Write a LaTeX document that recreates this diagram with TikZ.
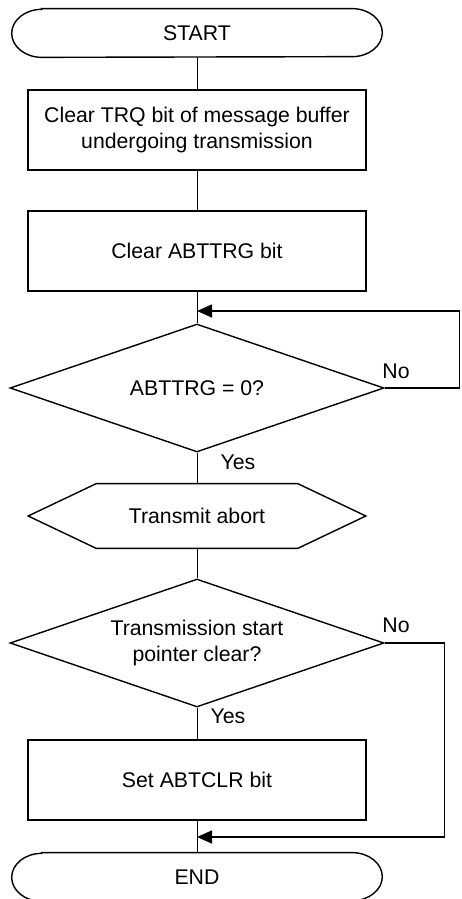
\documentclass[tikz,border=0pt]{standalone}
\usepackage{fontspec}
\setmainfont{Liberation Sans}
\usetikzlibrary{shapes.geometric,arrows.meta}

\begin{document}
\begin{tikzpicture}[x=0.02cm,y=-0.02cm,
    font=\fontsize{12.1}{14.8}\selectfont,
    every node/.style={align=center,inner sep=0pt},
    outline/.style={line width=0.8pt},
    term/.style={minimum width=7.4cm,minimum height=0.96cm},
    proc/.style={draw,outline,minimum width=6.76cm,minimum height=1.6cm},
    decide/.style={draw,outline,diamond,aspect=2.92,minimum width=7.48cm,minimum height=2.56cm},
    prep/.style={minimum width=6.74cm,minimum height=1.28cm},
    link/.style={line width=0.5pt},
    back/.style={line width=0.8pt,-{Triangle[length=0.3cm,width=0.26cm]}}]
      \useasboundingbox (0,0) rectangle (461,899);

      % Steps
      \node[term] (start) at (197,33) {START};
      \node[proc] (clrtrq) at (197,130) {Clear TRQ bit of message buffer\\undergoing transmission};
      \node[proc] (clrabt) at (197,251) {Clear ABTTRG bit};
      \node[decide] (chkabt) at (197,388) {ABTTRG = 0?};
      \node[prep] (abort) at (197,516) {Transmit abort};
      \node[decide] (chkptr) at (197,643) {Transmission start\\pointer clear?};
      \node[proc] (setclr) at (197,780) {Set ABTCLR bit};
      \node[term] (stop) at (197,877) {END};

      % Terminal outlines
      \draw[outline] ([xshift=0.6cm]start.north west) -- ([xshift=-0.6cm]start.north east)
        arc (90:-90:0.6cm and 0.48cm) -- ([xshift=0.6cm]start.south west)
        arc (270:90:0.6cm and 0.48cm) -- cycle;
      \draw[outline] ([xshift=0.6cm]stop.north west) -- ([xshift=-0.6cm]stop.north east)
        arc (90:-90:0.6cm and 0.48cm) -- ([xshift=0.6cm]stop.south west)
        arc (270:90:0.6cm and 0.48cm) -- cycle;

      % Hexagon
      \draw[outline] (abort.west) -- ([xshift=1.36cm]abort.north west)
        -- ([xshift=-1.36cm]abort.north east) -- (abort.east)
        -- ([xshift=-1.36cm]abort.south east) -- ([xshift=1.36cm]abort.south west) -- cycle;

      % Joins
      \coordinate (loopin) at (197,311);
      \coordinate (skipin) at (197,837);

      % Labels
      \node (no1) at (396,371) {No};
      \node (yes1) at (238,462) {Yes};
      \node (no2) at (396,625) {No};
      \node (yes2) at (228,716) {Yes};

      % Flow
      \draw[link] (start.south) -- (clrtrq.north);
      \draw[link] (clrtrq.south) -- (clrabt.north);
      \draw[link] (clrabt.south) -- (chkabt.north);
      \draw[link] (chkabt.south) -- (abort.north);
      \draw[link] (abort.south) -- (chkptr.north);
      \draw[link] (chkptr.south) -- (setclr.north);
      \draw[link] (setclr.south) -- (stop.north);

      % Loops
      \draw[back] (chkabt.east) -- ++(75,0) |- (loopin);
      \draw[back] (chkptr.east) -- ++(60,0) |- (skipin);
    \end{tikzpicture}
\end{document}
